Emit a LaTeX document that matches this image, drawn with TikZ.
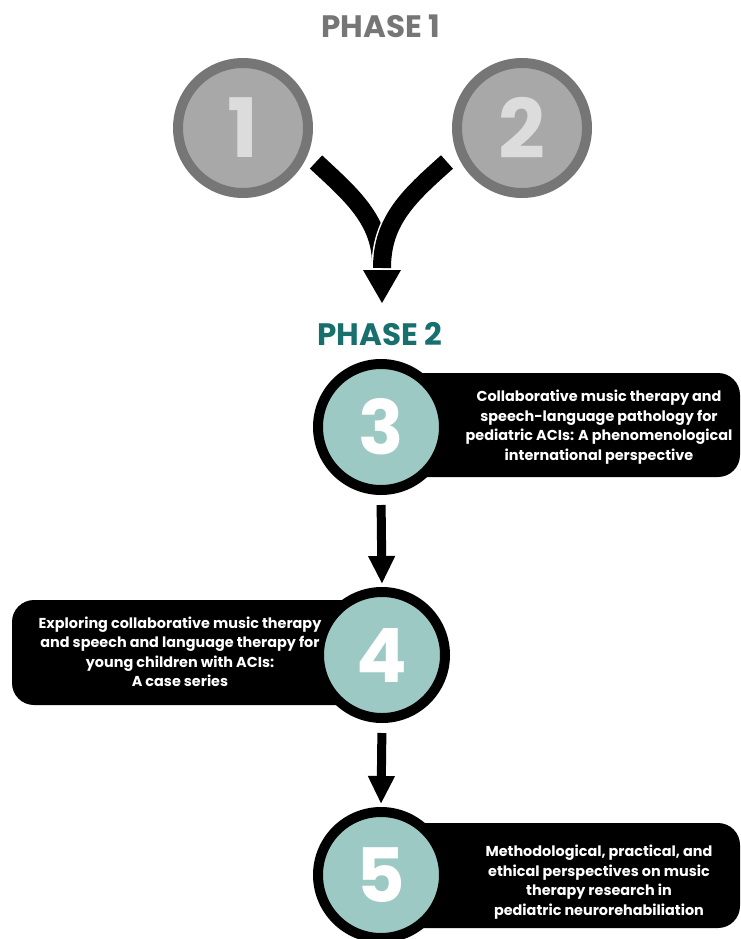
\documentclass[tikz,border=0pt]{standalone}
\usepackage{fontspec}
\setmainfont{Poppins}
\usetikzlibrary{arrows.meta}
\definecolor{ringgray}{HTML}{767676}
\definecolor{fillgray}{HTML}{A8A8A8}
\definecolor{digitgray}{HTML}{DCDCDC}
\definecolor{teal}{HTML}{9DC9C4}
\definecolor{phaseteal}{HTML}{17706D}
\begin{document}
\begin{tikzpicture}[x=1pt,y=-1pt,
  graycircle/.style={circle, draw=ringgray, fill=fillgray, line width=10pt,
    minimum size=130pt, inner sep=0pt, text=digitgray,
    font=\fontsize{82}{82}\selectfont\bfseries},
  tealcircle/.style={circle, draw=black, fill=teal, line width=10pt,
    minimum size=126pt, inner sep=0pt, text=white,
    font=\fontsize{75}{75}\selectfont\bfseries},
  phaselabel/.style={font=\fontsize{31}{31}\selectfont\bfseries, inner sep=0pt},
  bartext/.style={text=white, align=center, inner sep=0pt,
    font=\fontsize{14.4}{19.5}\selectfont\bfseries},
  bar/.style={fill=black, rounded corners=22pt},
  branch/.style={line width=18pt, line cap=butt},
  flow/.style={line width=9pt, -{Triangle[width=25pt,length=28pt]},
    shorten <=10pt, shorten >=3pt}
]
\useasboundingbox (0,0) rectangle (741,939);

% Phase 1
\node[phaselabel, text=ringgray] (p1) at (381,26) {PHASE 1};
\node[graycircle] (c1) at (243,128) {1};
\node[graycircle] (c2) at (522,128) {2};

% merging arrow
\coordinate (s1) at (316,162);
\coordinate (s2) at (447,162);
\coordinate (m) at (382,268);
\coordinate (tip) at (382,303);
\draw[branch] (s1) .. controls (348,192) and (380,218) .. (381,262);
\draw[branch, white, line width=21pt] (s2) .. controls (410,195) and (382,220) .. (m);
\draw[branch] (s2) .. controls (410,195) and (382,220) .. (m);
\fill (363,270) -- (401,270) -- (tip) -- cycle;

% Phase 2
\node[phaselabel, text=phaseteal] (p2) at (380,334) {PHASE 2};

\fill[bar] (380,373) rectangle (740,477);
\node[tealcircle] (c3) at (381,427) {3};
\node[bartext] (t3) at (599,427) {Collaborative music therapy and\\speech-language pathology for\\pediatric ACIs: A phenomenological\\international perspective};

\fill[bar] (12,600) rectangle (382,705);
\node[tealcircle] (c4) at (382,655) {4};
\node[bartext] (t4) at (180,652) {Exploring collaborative music therapy\\and speech and language therapy for\\young children with ACIs:\\A case series};

\fill[bar] (380,823) rectangle (740,928);
\node[tealcircle] (c5) at (381,875) {5};
\node[bartext] (t5) at (599,882) {Methodological, practical, and\\ethical perspectives on music\\therapy research in\\pediatric neurorehabiliation};

\draw[flow] (c3.south) -- (c4.north);
\draw[flow] (c4.south) -- (c5.north);
\end{tikzpicture}
\end{document}
